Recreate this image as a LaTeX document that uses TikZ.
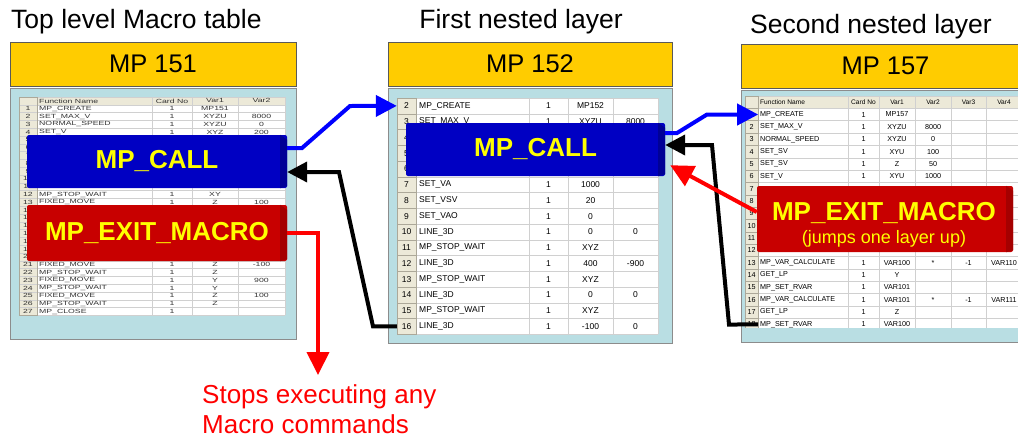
\documentclass[tikz,border=0pt]{standalone}
\usepackage{fontspec}
\setmainfont{Liberation Sans}
\newfontfamily\widefont[FakeStretch=1.45]{Liberation Sans}
\usetikzlibrary{arrows.meta}
\newcommand{\myfs}[1]{\fontsize{#1}{#1}\selectfont}
\definecolor{hdryellow}{RGB}{255,204,0}
\definecolor{panelblue}{RGB}{185,222,227}
\definecolor{boxblue}{RGB}{0,0,195}
\definecolor{boxblueside}{RGB}{0,0,150}
\definecolor{boxred}{RGB}{200,0,0}
\definecolor{boxredside}{RGB}{165,0,0}
\definecolor{linkblue}{RGB}{0,0,255}
\definecolor{linkred}{RGB}{255,0,0}
\definecolor{rowhead}{RGB}{236,233,216}
\definecolor{gridgray}{RGB}{208,208,208}
\definecolor{rowheadline}{RGB}{172,168,153}
\definecolor{boxtext}{RGB}{255,255,0}
\begin{document}
\begin{tikzpicture}[x=1pt,y=-1pt,
  title/.style={font=\myfs{26.5}, inner sep=0pt},
  hdr/.style={draw=black!65, line width=0.8pt, fill=hdryellow, font=\myfs{25.5}, inner sep=0pt},
  panel/.style={draw=black!45, line width=1pt, fill=panelblue, inner sep=0pt, anchor=north west},
  gridln/.style={draw=gridgray, line width=0.5pt},
  headln/.style={draw=rowheadline, line width=0.5pt},
  ltxt/.style={font=\widefont\myfs{6}, text=black!80, inner sep=0pt},
  mtxt/.style={font=\myfs{8.5}, inner sep=0pt},
  rtxt/.style={font=\myfs{7.2}, inner sep=0pt},
  callbox/.style={fill=boxblue, text=boxtext, font=\bfseries\myfs{26}, inner sep=0pt, rounded corners=2pt},
  exitbox/.style={fill=boxred, text=boxtext, font=\bfseries\myfs{26}, inner sep=0pt, rounded corners=2pt, align=center},
  exittext/.style={text=boxtext, font=\bfseries\myfs{26}, inner sep=0pt, align=center},
  link/.style={line width=4pt},
  bluelink/.style={link, draw=linkblue, -{Triangle[length=21pt,width=21pt]}},
  blacklink/.style={link, draw=black, -{Triangle[length=20pt,width=20pt]}},
  redlink/.style={link, draw=linkred, -{Triangle[length=23pt,width=22pt]}},
  stopstext/.style={font=\fontsize{26}{30}\selectfont, text=linkred, align=left, inner sep=0pt}
]
\clip (0,0) rectangle (1018,440);
\fill[white] (0,0) rectangle (1018,440);

% ---------------- titles -----------------
\node[title, anchor=base west] (tL) at (11,28) {Top level Macro table};
\node[title, anchor=base] (tM) at (521,28) {First nested layer};
\node[title, anchor=base west] (tR) at (750,33) {Second nested layer};

% ---------------- headers -----------------
\node[hdr, minimum width=286pt, minimum height=44pt] (hL) at (153,64) {MP 151};
\node[hdr, minimum width=284pt, minimum height=44pt] (hM) at (530,64) {MP 152};
\node[hdr, minimum width=289pt, minimum height=44pt] (hR) at (885.5,66) {MP 157};

% ---------------- panels -----------------
\node[panel, minimum width=286pt, minimum height=251pt] (pL) at (10,88) {};
\node[panel, minimum width=284pt, minimum height=255pt] (pM) at (388,88) {};
\node[panel, minimum width=289pt, minimum height=252pt] (pR) at (741,90) {};

% ---------------- left table -----------------
\fill[white] (19,97) rectangle (285,315.4);
\fill[rowhead] (19,97) rectangle (37,315.4);
\fill[rowhead] (19,97) rectangle (285,104.8);
\foreach \i in {0,...,28} \draw[gridln] (19,{97+\i*7.8}) -- (285,{97+\i*7.8});
\foreach \x in {37,152,192,238,285} \draw[gridln] (\x,97) -- (\x,315.4);
\draw[headln] (19,97) rectangle (37,315.4);
\node[ltxt, anchor=west] (L-h-f) at (39,100.9) {Function Name};
\node[ltxt] (L-h-c) at (172,100.9) {Card No};
\node[ltxt] (L-h-a) at (215,100.9) {Var1};
\node[ltxt] (L-h-b) at (261.5,100.9) {Var2};
\foreach \rw in {1,...,27} \node[ltxt, minimum width=18pt] (L-\rw) at (28,{97+(\rw+0.5)*7.8}) {\rw};
\foreach \rw/\colA/\colB/\colC/\colD in {
  1/MP\_CREATE/1/MP151/{},
  2/SET\_MAX\_V/1/XYZU/8000,
  3/NORMAL\_SPEED/1/XYZU/0,
  4/SET\_V/1/XYZ/200,
  12/MP\_STOP\_WAIT/1/XY/{},
  13/FIXED\_MOVE/1/Z/100,
  21/FIXED\_MOVE/1/Z/-100,
  22/MP\_STOP\_WAIT/1/Z/{},
  23/FIXED\_MOVE/1/Y/900,
  24/MP\_STOP\_WAIT/1/Y/{},
  25/FIXED\_MOVE/1/Z/100,
  26/MP\_STOP\_WAIT/1/Z/{},
  27/MP\_CLOSE/1/{}/{}} {
  \node[ltxt, anchor=west] (L-\rw-f) at (39,{97+(\rw+0.5)*7.8}) {\colA};
  \node[ltxt] (L-\rw-c) at (172,{97+(\rw+0.5)*7.8}) {\colB};
  \node[ltxt] (L-\rw-a) at (215,{97+(\rw+0.5)*7.8}) {\colC};
  \node[ltxt] (L-\rw-b) at (261.5,{97+(\rw+0.5)*7.8}) {\colD};
}

% ---------------- middle table -----------------
\fill[white] (397,98) rectangle (658,334.25);
\fill[rowhead] (397,98) rectangle (416,334.25);
\foreach \i in {0,...,15} {
  \draw[gridln] (416,{98+\i*15.75}) -- (658,{98+\i*15.75});
  \draw[headln] (397,{98+\i*15.75}) -- (416,{98+\i*15.75});
}
\foreach \x in {529,568,613,658} \draw[gridln] (\x,98) -- (\x,334.25);
\draw[headln] (397,98) rectangle (416,334.25);
\foreach \rw in {2,...,16} \node[mtxt, minimum width=19pt] (M-\rw) at (406.5,{98+(\rw-1.5)*15.75}) {\rw};
\foreach \rw/\colA/\colB/\colC/\colD in {
  2/MP\_CREATE/1/MP152/{},
  3/SET\_MAX\_V/1/XYZU/8000,
  7/SET\_VA/1/1000/{},
  8/SET\_VSV/1/20/{},
  9/SET\_VAO/1/0/{},
  10/LINE\_3D/1/0/0,
  11/MP\_STOP\_WAIT/1/XYZ/{},
  12/LINE\_3D/1/400/-900,
  13/MP\_STOP\_WAIT/1/XYZ/{},
  14/LINE\_3D/1/0/0,
  15/MP\_STOP\_WAIT/1/XYZ/{},
  16/LINE\_3D/1/-100/0} {
  \node[mtxt, anchor=west] (M-\rw-f) at (419,{98+(\rw-1.5)*15.75}) {\colA};
  \node[mtxt] (M-\rw-c) at (548.5,{98+(\rw-1.5)*15.75}) {\colB};
  \node[mtxt] (M-\rw-a) at (590.5,{98+(\rw-1.5)*15.75}) {\colC};
  \node[mtxt] (M-\rw-b) at (635.5,{98+(\rw-1.5)*15.75}) {\colD};
}

% ---------------- right table -----------------
\begin{scope}
\clip (741,90) rectangle (1018,327);
\fill[white] (745,96) rectangle (1022,340);
\fill[rowhead] (745,96) rectangle (758,340);
\fill[rowhead] (745,96) rectangle (1022,108.35);
\foreach \i in {0,...,19} {
  \draw[gridln] (758,{96+\i*12.35}) -- (1022,{96+\i*12.35});
  \draw[headln] (745,{96+\i*12.35}) -- (758,{96+\i*12.35});
}
\foreach \x in {848,879,915,951,986} \draw[gridln] (\x,96) -- (\x,340);
\draw[headln] (745,96) rectangle (758,340);
\node[rtxt, anchor=west, font=\myfs{6.6}] (R-h-f) at (760,102.2) {Function Name};
\node[rtxt, font=\myfs{6.6}] (R-h-c) at (863.5,102.2) {Card No};
\node[rtxt, font=\myfs{6.6}] (R-h-a) at (897,102.2) {Var1};
\node[rtxt, font=\myfs{6.6}] (R-h-b) at (933,102.2) {Var2};
\node[rtxt, font=\myfs{6.6}] (R-h-x) at (968.5,102.2) {Var3};
\node[rtxt, font=\myfs{6.6}] (R-h-y) at (1004,102.2) {Var4};
\foreach \rw in {1,...,18} \node[rtxt, minimum width=13pt] (R-\rw) at (751.5,{96+(\rw+0.5)*12.35}) {\rw};
\foreach \rw/\colA/\colB/\colC/\colD/\colE/\colF in {
  1/MP\_CREATE/1/MP157/{}/{}/{},
  2/SET\_MAX\_V/1/XYZU/8000/{}/{},
  3/NORMAL\_SPEED/1/XYZU/0/{}/{},
  4/SET\_SV/1/XYU/100/{}/{},
  5/SET\_SV/1/Z/50/{}/{},
  6/SET\_V/1/XYU/1000/{}/{},
  13/MP\_VAR\_CALCULATE/1/VAR100/*/-1/VAR110,
  14/GET\_LP/1/Y/{}/{}/{},
  15/MP\_SET\_RVAR/1/VAR101/{}/{}/{},
  16/MP\_VAR\_CALCULATE/1/VAR101/*/-1/VAR111,
  17/GET\_LP/1/Z/{}/{}/{},
  18/MP\_SET\_RVAR/1/VAR100/{}/{}/{}} {
  \node[rtxt, anchor=west] (R-\rw-f) at (760,{96+(\rw+0.5)*12.35}) {\colA};
  \node[rtxt] (R-\rw-c) at (863.5,{96+(\rw+0.5)*12.35}) {\colB};
  \node[rtxt] (R-\rw-a) at (897,{96+(\rw+0.5)*12.35}) {\colC};
  \node[rtxt] (R-\rw-b) at (933,{96+(\rw+0.5)*12.35}) {\colD};
  \node[rtxt] (R-\rw-x) at (968.5,{96+(\rw+0.5)*12.35}) {\colE};
  \node[rtxt] (R-\rw-y) at (1004,{96+(\rw+0.5)*12.35}) {\colF};
}
\end{scope}

% ---------------- big boxes -----------------
\node[callbox, minimum width=260pt, minimum height=53pt] (callL) at (157,161.5) {MP\_CALL};
\fill[boxblueside] ([xshift=-7pt]callL.north east) -- ([yshift=-5pt]callL.north east) -- ([yshift=2pt]callL.south east) -- ([xshift=-7pt]callL.south east) -- cycle;
\node[exitbox, minimum width=260pt, minimum height=56pt] (exitL) at (157,233) {MP\_EXIT\_MACRO};
\fill[boxredside] ([xshift=-7pt]exitL.north east) -- ([yshift=-5pt]exitL.north east) -- ([yshift=2pt]exitL.south east) -- ([xshift=-7pt]exitL.south east) -- cycle;
\node[callbox, minimum width=259pt, minimum height=53pt] (callM) at (535.5,149.5) {MP\_CALL};
\fill[boxblueside] ([xshift=-7pt]callM.north east) -- ([yshift=-5pt]callM.north east) -- ([yshift=2pt]callM.south east) -- ([xshift=-7pt]callM.south east) -- cycle;
\node[exitbox, minimum width=256pt, minimum height=66pt] (exitR) at (885,219) {};
\fill[boxredside] ([xshift=-7pt]exitR.north east) -- ([yshift=-5pt]exitR.north east) -- ([yshift=2pt]exitR.south east) -- ([xshift=-7pt]exitR.south east) -- cycle;
\node[exittext] (exitRtext) at (884,225) {MP\_EXIT\_MACRO\\[-3pt]\mdseries\myfs{18}(jumps one layer up)};

% ---------------- text below -----------------
\node[stopstext, anchor=north west] (stops) at (202,384) {Stops executing any\\Macro commands};
\coordinate (stopTip) at (318,375);

% ---------------- connectors -----------------
\draw[bluelink] ([yshift=13.5pt]callL.east) -- (302,148) -- (350,106) -- (M-2.west);
\draw[blacklink] (M-16.west) -- (373,326.4) -- (339,172) -- ([yshift=-10.5pt]callL.east);
\draw[redlink] (exitL.east) -- (318,233) -- (stopTip);
\draw[bluelink] ([yshift=16.5pt]callM.east) -- (677,133) -- (707,114.5) -- (R-1.east);
\draw[blacklink] (R-18.east) -- (729,324.5) -- (712,145) -- ([yshift=4.5pt]callM.east);
\draw[redlink] ([yshift=7pt]exitR.west) -- ([xshift=5pt,yshift=11pt]callM.south east);
\end{tikzpicture}
\end{document}
